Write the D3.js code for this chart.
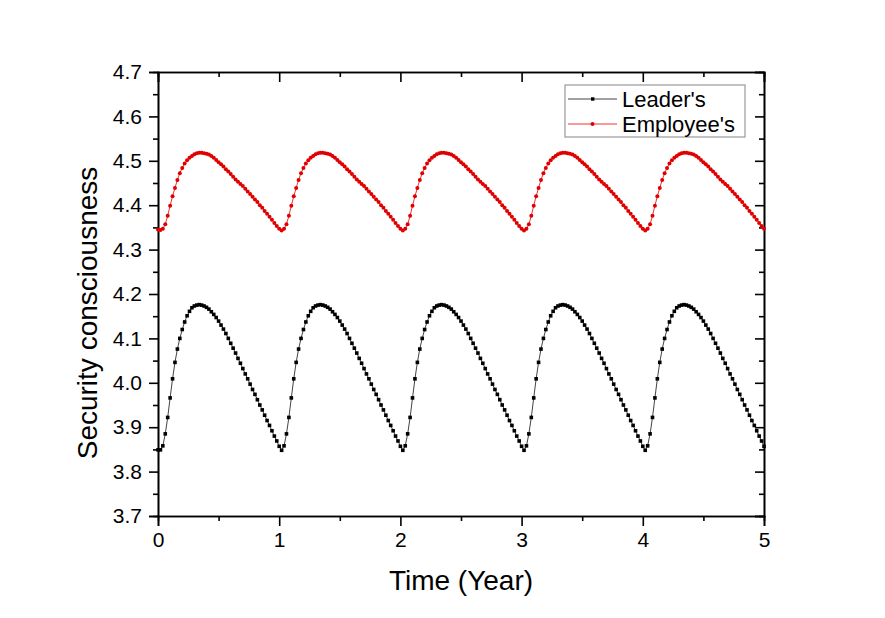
<!DOCTYPE html>
<html>
<head>
<meta charset="utf-8">
<script src="https://cdn.jsdelivr.net/npm/d3@7"></script>
<style>
  body { margin: 0; background: #fff; }
  text { font-family: "Liberation Sans", Arial, sans-serif; }
</style>
</head>
<body>
<div id="chart"></div>
<script>
// sampled every 0.02 year, t = 0 .. 5
const timeStep = 0.02;

const leaderValues = [
  // year 0-1
  3.849,3.849,3.858,3.885,3.922,3.966,4.009,4.046,4.076,4.100,
  4.120,4.137,4.151,4.161,4.169,4.173,4.175,4.176,4.175,4.173,
  4.170,4.166,4.160,4.154,4.147,4.139,4.130,4.121,4.111,4.100,
  4.089,4.078,4.067,4.055,4.044,4.032,4.020,4.009,3.997,3.985,
  3.974,3.962,3.950,3.939,3.927,3.915,3.904,3.892,3.880,3.869,
  // year 1-2
  3.857,3.848,3.858,3.885,3.922,3.966,4.009,4.046,4.076,4.100,
  4.120,4.137,4.151,4.161,4.169,4.173,4.175,4.176,4.175,4.173,
  4.170,4.166,4.160,4.154,4.147,4.139,4.130,4.121,4.111,4.100,
  4.089,4.078,4.067,4.055,4.044,4.032,4.020,4.009,3.997,3.985,
  3.974,3.962,3.950,3.939,3.927,3.915,3.904,3.892,3.880,3.869,
  // year 2-3
  3.857,3.848,3.858,3.885,3.922,3.966,4.009,4.046,4.076,4.100,
  4.120,4.137,4.151,4.161,4.169,4.173,4.175,4.176,4.175,4.173,
  4.170,4.166,4.160,4.154,4.147,4.139,4.130,4.121,4.111,4.100,
  4.089,4.078,4.067,4.055,4.044,4.032,4.020,4.009,3.997,3.985,
  3.974,3.962,3.950,3.939,3.927,3.915,3.904,3.892,3.880,3.869,
  // year 3-4
  3.857,3.848,3.858,3.885,3.922,3.966,4.009,4.046,4.076,4.100,
  4.120,4.137,4.151,4.161,4.169,4.173,4.175,4.176,4.175,4.173,
  4.170,4.166,4.160,4.154,4.147,4.139,4.130,4.121,4.111,4.100,
  4.089,4.078,4.067,4.055,4.044,4.032,4.020,4.009,3.997,3.985,
  3.974,3.962,3.950,3.939,3.927,3.915,3.904,3.892,3.880,3.869,
  // year 4-5
  3.857,3.848,3.858,3.885,3.922,3.966,4.009,4.046,4.076,4.100,
  4.120,4.137,4.151,4.161,4.169,4.173,4.175,4.176,4.175,4.173,
  4.170,4.166,4.160,4.154,4.147,4.139,4.130,4.121,4.111,4.100,
  4.089,4.078,4.067,4.055,4.044,4.032,4.020,4.009,3.997,3.985,
  3.974,3.962,3.950,3.939,3.927,3.915,3.904,3.892,3.880,3.869,
  3.857
];

const employeeValues = [
  // year 0-1
  4.345,4.344,4.347,4.357,4.376,4.399,4.420,4.439,4.457,4.472,
  4.484,4.494,4.501,4.507,4.511,4.515,4.517,4.518,4.518,4.517,
  4.516,4.514,4.511,4.507,4.502,4.497,4.492,4.487,4.481,4.476,
  4.470,4.464,4.458,4.453,4.448,4.443,4.437,4.431,4.425,4.419,
  4.413,4.407,4.400,4.394,4.387,4.381,4.374,4.367,4.360,4.353,
  // year 1-2
  4.347,4.343,4.347,4.357,4.376,4.399,4.420,4.439,4.457,4.472,
  4.484,4.494,4.501,4.507,4.511,4.515,4.517,4.518,4.518,4.517,
  4.516,4.514,4.511,4.507,4.502,4.497,4.492,4.487,4.481,4.476,
  4.470,4.464,4.458,4.453,4.448,4.443,4.437,4.431,4.425,4.419,
  4.413,4.407,4.400,4.394,4.387,4.381,4.374,4.367,4.360,4.353,
  // year 2-3
  4.347,4.343,4.347,4.357,4.376,4.399,4.420,4.439,4.457,4.472,
  4.484,4.494,4.501,4.507,4.511,4.515,4.517,4.518,4.518,4.517,
  4.516,4.514,4.511,4.507,4.502,4.497,4.492,4.487,4.481,4.476,
  4.470,4.464,4.458,4.453,4.448,4.443,4.437,4.431,4.425,4.419,
  4.413,4.407,4.400,4.394,4.387,4.381,4.374,4.367,4.360,4.353,
  // year 3-4
  4.347,4.343,4.347,4.357,4.376,4.399,4.420,4.439,4.457,4.472,
  4.484,4.494,4.501,4.507,4.511,4.515,4.517,4.518,4.518,4.517,
  4.516,4.514,4.511,4.507,4.502,4.497,4.492,4.487,4.481,4.476,
  4.470,4.464,4.458,4.453,4.448,4.443,4.437,4.431,4.425,4.419,
  4.413,4.407,4.400,4.394,4.387,4.381,4.374,4.367,4.360,4.353,
  // year 4-5
  4.347,4.343,4.347,4.357,4.376,4.399,4.420,4.439,4.457,4.472,
  4.484,4.494,4.501,4.507,4.511,4.515,4.517,4.518,4.518,4.517,
  4.516,4.514,4.511,4.507,4.502,4.497,4.492,4.487,4.481,4.476,
  4.470,4.464,4.458,4.453,4.448,4.443,4.437,4.431,4.425,4.419,
  4.413,4.407,4.400,4.394,4.387,4.381,4.374,4.367,4.360,4.353,
  4.347
];

const xTicks = [0, 1, 2, 3, 4, 5];
const xMinorTicks = [0.5, 1.5, 2.5, 3.5, 4.5];
const yTicks = [3.7, 3.8, 3.9, 4.0, 4.1, 4.2, 4.3, 4.4, 4.5, 4.6, 4.7];
const yMinorTicks = [3.75, 3.85, 3.95, 4.05, 4.15, 4.25, 4.35, 4.45, 4.55, 4.65];
const seriesNames = ["Leader's", "Employee's"];

const width = 885, height = 618;
const plotLeft = 158, plotRight = 764, plotTop = 72, plotBottom = 516;

const svg = d3.select("#chart").append("svg")
    .attr("width", width)
    .attr("height", height);

svg.append("rect").attr("width", width).attr("height", height).attr("fill", "#fff");

const x = d3.scaleLinear().domain([0, 5]).range([plotLeft, plotRight]);
const y = d3.scaleLinear().domain([3.7, 4.7]).range([plotBottom, plotTop]);

// axes: major + minor, mirrored on top / right with inward ticks
function styleAxis(g) {
    g.selectAll(".domain").attr("stroke", "#000").attr("stroke-width", 1.6);
    g.selectAll(".tick line").attr("stroke", "#000").attr("stroke-width", 1.6);
    g.selectAll(".tick text").attr("font-size", 21).attr("fill", "#000")
        .style("font-family", '"Liberation Sans", Arial, sans-serif');
}

svg.append("g").attr("transform", `translate(0,${plotBottom})`)
    .call(d3.axisBottom(x).tickValues(xTicks).tickSize(10).tickPadding(6).tickFormat(d3.format("d")))
    .call(styleAxis);
svg.append("g").attr("transform", `translate(0,${plotBottom})`)
    .call(d3.axisBottom(x).tickValues(xMinorTicks).tickSize(5).tickFormat(""))
    .call(styleAxis);
svg.append("g").attr("transform", `translate(0,${plotTop})`)
    .call(d3.axisTop(x).tickValues(xTicks).tickSize(-10).tickFormat(""))
    .call(styleAxis);
svg.append("g").attr("transform", `translate(0,${plotTop})`)
    .call(d3.axisTop(x).tickValues(xMinorTicks).tickSize(-5).tickFormat(""))
    .call(styleAxis);

svg.append("g").attr("transform", `translate(${plotLeft},0)`)
    .call(d3.axisLeft(y).tickValues(yTicks).tickSize(9).tickPadding(7).tickFormat(d3.format(".1f")))
    .call(styleAxis);
svg.append("g").attr("transform", `translate(${plotLeft},0)`)
    .call(d3.axisLeft(y).tickValues(yMinorTicks).tickSize(5).tickFormat(""))
    .call(styleAxis);
svg.append("g").attr("transform", `translate(${plotRight},0)`)
    .call(d3.axisRight(y).tickValues(yTicks).tickSize(-9).tickFormat(""))
    .call(styleAxis);
svg.append("g").attr("transform", `translate(${plotRight},0)`)
    .call(d3.axisRight(y).tickValues(yMinorTicks).tickSize(-5).tickFormat(""))
    .call(styleAxis);

// axis titles
svg.append("text")
    .attr("x", (plotLeft + plotRight) / 2).attr("y", 590)
    .attr("text-anchor", "middle").attr("font-size", 28)
    .text("Time (Year)");
svg.append("text")
    .attr("transform", `translate(97,${(plotTop + plotBottom) / 2 + 19}) rotate(-90)`)
    .attr("text-anchor", "middle").attr("font-size", 28)
    .text("Security consciousness");

// series
const line = d3.line().x((d, i) => x(i * timeStep)).y(d => y(d));

svg.append("path").datum(leaderValues)
    .attr("fill", "none").attr("stroke", "#444").attr("stroke-width", 1)
    .attr("d", line);
svg.append("g").selectAll("rect")
    .data(leaderValues).enter().append("rect")
    .attr("x", (d, i) => x(i * timeStep) - 1.8)
    .attr("y", d => y(d) - 1.8)
    .attr("width", 3.6).attr("height", 3.6)
    .attr("fill", "#000");

svg.append("path").datum(employeeValues)
    .attr("fill", "none").attr("stroke", "#e33").attr("stroke-width", 1)
    .attr("d", line);
svg.append("g").selectAll("circle")
    .data(employeeValues).enter().append("circle")
    .attr("cx", (d, i) => x(i * timeStep))
    .attr("cy", d => y(d))
    .attr("r", 2)
    .attr("fill", "#e00000");

// legend
const legend = svg.append("g");
legend.append("rect")
    .attr("x", 565).attr("y", 85).attr("width", 180).attr("height", 52)
    .attr("fill", "#fff").attr("stroke", "#999").attr("stroke-width", 1.2);

const legendRows = [
    { name: seriesNames[0], line: "#444", mark: "#000", square: true, cy: 99 },
    { name: seriesNames[1], line: "#e33", mark: "#e00000", square: false, cy: 124 }
];
legendRows.forEach(r => {
    legend.append("line")
        .attr("x1", 568).attr("x2", 617).attr("y1", r.cy).attr("y2", r.cy)
        .attr("stroke", r.line).attr("stroke-width", 1);
    if (r.square) {
        legend.append("rect").attr("x", 591).attr("y", r.cy - 1.7)
            .attr("width", 3.4).attr("height", 3.4).attr("fill", r.mark);
    } else {
        legend.append("circle").attr("cx", 592.5).attr("cy", r.cy).attr("r", 2).attr("fill", r.mark);
    }
    legend.append("text")
        .attr("x", 622).attr("y", r.cy + 7.5)
        .attr("font-size", 22)
        .text(r.name);
});
</script>
</body>
</html>
